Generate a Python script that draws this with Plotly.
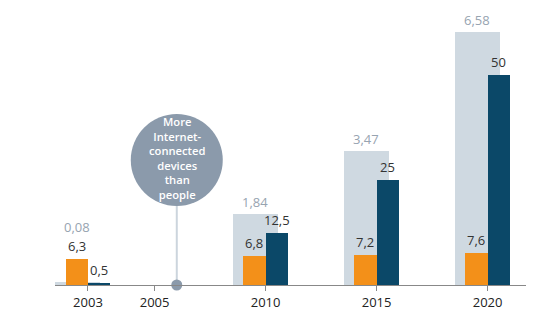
import numpy as np
import plotly.graph_objects as go

# ---- data ----
bar_years = [2003, 2010, 2015, 2020]
population = [6.3, 6.8, 7.2, 7.6]          # billions (orange)
devices = [0.5, 12.5, 25, 50]              # billions (dark blue)
devices_per_person = [0.08, 1.84, 3.47, 6.58]  # ratio (light grey)
tick_years = [2003, 2005, 2010, 2015, 2020]
tick_labels = ["2003", "2005", "2010", "2015", "2020"]
callout_year = 2006
callout_lines = ["More", "Internet-", "connected", "devices", "than", "people"]

# ---- layout constants ----
W, H = 545, 325
ML, MR, MT, MB = 55, 19, 0, 40
PLOT_H = H - MT - MB
tick_pos = [0, 0.6, 1.6, 2.6, 3.6]        # irregular slot positions on the axis
PX_RATIO = 38.5    # px per unit, ratio axis
PX_BILL = 4.2      # px per unit, billions axis
y_ratio_max = PLOT_H / PX_RATIO
y_bill_max = PLOT_H / PX_BILL

ORANGE = "#f39019"
NAVY = "#0b4868"
LIGHT = "#cfd9e1"
GREY_TXT = "#97a4b1"
CIRCLE = "#8b9aab"
TXT = "#333333"

def pos(year):
    return float(np.interp(year, tick_years, tick_pos))

bx = [pos(y) for y in bar_years]

def fmt(v):
    return f"{v:g}".replace(".", ",")

fig = go.Figure()
fig.add_trace(go.Bar(x=bx, y=devices_per_person, offset=-0.297, width=0.405,
                     marker=dict(color=LIGHT, line=dict(width=0)), yaxis="y",
                     hoverinfo="skip"))
fig.add_trace(go.Bar(x=bx, y=population, offset=-0.2, width=0.2,
                     marker=dict(color=ORANGE, line=dict(width=0)), yaxis="y2",
                     hoverinfo="skip"))
fig.add_trace(go.Bar(x=bx, y=devices, offset=0, width=0.2,
                     marker=dict(color=NAVY, line=dict(width=0)), yaxis="y2",
                     hoverinfo="skip"))

# callout
cx = pos(callout_year)
circle_y = 125 / PX_BILL
fig.add_trace(go.Scatter(x=[cx, cx], y=[0, circle_y], mode="lines", yaxis="y2",
                         line=dict(color="#ccd5dd", width=2), hoverinfo="skip",
                         cliponaxis=False))
fig.add_trace(go.Scatter(x=[cx], y=[circle_y], mode="markers", yaxis="y2",
                         marker=dict(size=92, color=CIRCLE, line=dict(width=0)),
                         hoverinfo="skip", cliponaxis=False))
fig.add_trace(go.Scatter(x=[cx], y=[0], mode="markers", yaxis="y2",
                         marker=dict(size=11, color=CIRCLE, line=dict(width=0)),
                         hoverinfo="skip", cliponaxis=False))

ann = [dict(x=cx, y=circle_y, xref="x", yref="y2", text="<br>".join(callout_lines),
            showarrow=False, yanchor="middle", xanchor="center", borderpad=0,
            yshift=2,
            font=dict(family="Open Sans", size=11.2, color="white", weight=600))]

lab_font = dict(family="Open Sans", size=13, color=TXT)
for x, o, d, g in zip(bx, population, devices, devices_per_person):
    ann.append(dict(x=x - 0.1, y=o, yref="y2", xref="x", text=fmt(o), showarrow=False,
                    yanchor="bottom", yshift=2, font=lab_font))
    ann.append(dict(x=x + 0.1, y=d, yref="y2", xref="x", text=fmt(d), showarrow=False,
                    yanchor="bottom", yshift=2, font=lab_font))
    g_px = max(g * PX_RATIO, o * PX_BILL + 20)
    ann.append(dict(x=x - 0.297 + 0.2025, y=g_px / PX_RATIO, yref="y", xref="x",
                    text=fmt(g), showarrow=False, yanchor="bottom", yshift=1,
                    font=dict(family="Open Sans", size=13, color=GREY_TXT)))

fig.update_layout(
    width=W, height=H, margin=dict(l=ML, r=MR, t=MT, b=MB),
    paper_bgcolor="white", plot_bgcolor="white", showlegend=False,
    barmode="overlay", bargap=0,
    xaxis=dict(range=[-0.297, 3.946], tickvals=tick_pos, ticktext=tick_labels,
               ticks="outside", ticklen=5, tickcolor="#888888", tickwidth=1,
               showline=True, linecolor="#888888", linewidth=1,
               showgrid=False, zeroline=False, fixedrange=True,
               tickfont=dict(family="Open Sans", size=13, color="#222222")),
    yaxis=dict(range=[0, y_ratio_max], visible=False, showgrid=False, zeroline=False),
    yaxis2=dict(range=[0, y_bill_max], overlaying="y", visible=False,
                showgrid=False, zeroline=False),
    annotations=ann,
)

fig.write_html("out.html")
